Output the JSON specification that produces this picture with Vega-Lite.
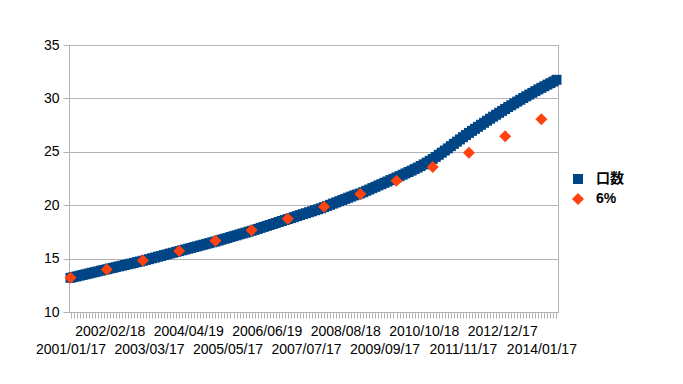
{
  "$schema": "https://vega.github.io/schema/vega-lite/v6.json",
  "autosize": "none",
  "padding": {"left": 69, "top": 45, "right": 125, "bottom": 72},
  "width": 489,
  "height": 267,
  "background": "white",
  "config": {"view": {"stroke": "#b3b3b3", "strokeWidth": 1}, "font": "Liberation Sans"},
  "data": {"values": [
    {"d":"2001/01/17","s":"口数","v":13.20},{"d":"2001/02/17","s":"口数","v":13.27},{"d":"2001/03/17","s":"口数","v":13.33},{"d":"2001/04/17","s":"口数","v":13.40},{"d":"2001/05/17","s":"口数","v":13.47},{"d":"2001/06/17","s":"口数","v":13.53},{"d":"2001/07/17","s":"口数","v":13.60},{"d":"2001/08/17","s":"口数","v":13.67},{"d":"2001/09/17","s":"口数","v":13.73},{"d":"2001/10/17","s":"口数","v":13.80},{"d":"2001/11/17","s":"口数","v":13.87},{"d":"2001/12/17","s":"口数","v":13.93},
    {"d":"2002/01/17","s":"口数","v":14.00},{"d":"2002/02/18","s":"口数","v":14.07},{"d":"2002/03/17","s":"口数","v":14.13},{"d":"2002/04/17","s":"口数","v":14.20},{"d":"2002/05/17","s":"口数","v":14.27},{"d":"2002/06/17","s":"口数","v":14.33},{"d":"2002/07/17","s":"口数","v":14.40},{"d":"2002/08/17","s":"口数","v":14.47},{"d":"2002/09/17","s":"口数","v":14.53},{"d":"2002/10/17","s":"口数","v":14.60},{"d":"2002/11/17","s":"口数","v":14.67},{"d":"2002/12/17","s":"口数","v":14.73},
    {"d":"2003/01/17","s":"口数","v":14.80},{"d":"2003/02/17","s":"口数","v":14.88},{"d":"2003/03/17","s":"口数","v":14.95},{"d":"2003/04/17","s":"口数","v":15.03},{"d":"2003/05/17","s":"口数","v":15.10},{"d":"2003/06/17","s":"口数","v":15.18},{"d":"2003/07/17","s":"口数","v":15.25},{"d":"2003/08/17","s":"口数","v":15.33},{"d":"2003/09/17","s":"口数","v":15.40},{"d":"2003/10/17","s":"口数","v":15.48},{"d":"2003/11/17","s":"口数","v":15.55},{"d":"2003/12/17","s":"口数","v":15.63},
    {"d":"2004/01/17","s":"口数","v":15.70},{"d":"2004/02/17","s":"口数","v":15.78},{"d":"2004/03/17","s":"口数","v":15.85},{"d":"2004/04/19","s":"口数","v":15.93},{"d":"2004/05/17","s":"口数","v":16.00},{"d":"2004/06/17","s":"口数","v":16.08},{"d":"2004/07/17","s":"口数","v":16.15},{"d":"2004/08/17","s":"口数","v":16.23},{"d":"2004/09/17","s":"口数","v":16.30},{"d":"2004/10/17","s":"口数","v":16.38},{"d":"2004/11/17","s":"口数","v":16.45},{"d":"2004/12/17","s":"口数","v":16.53},
    {"d":"2005/01/17","s":"口数","v":16.60},{"d":"2005/02/17","s":"口数","v":16.68},{"d":"2005/03/17","s":"口数","v":16.77},{"d":"2005/04/17","s":"口数","v":16.85},{"d":"2005/05/17","s":"口数","v":16.93},{"d":"2005/06/17","s":"口数","v":17.02},{"d":"2005/07/17","s":"口数","v":17.10},{"d":"2005/08/17","s":"口数","v":17.18},{"d":"2005/09/17","s":"口数","v":17.27},{"d":"2005/10/17","s":"口数","v":17.35},{"d":"2005/11/17","s":"口数","v":17.43},{"d":"2005/12/17","s":"口数","v":17.52},
    {"d":"2006/01/17","s":"口数","v":17.60},{"d":"2006/02/17","s":"口数","v":17.69},{"d":"2006/03/17","s":"口数","v":17.78},{"d":"2006/04/17","s":"口数","v":17.88},{"d":"2006/05/17","s":"口数","v":17.97},{"d":"2006/06/19","s":"口数","v":18.06},{"d":"2006/07/17","s":"口数","v":18.15},{"d":"2006/08/17","s":"口数","v":18.24},{"d":"2006/09/17","s":"口数","v":18.33},{"d":"2006/10/17","s":"口数","v":18.43},{"d":"2006/11/17","s":"口数","v":18.52},{"d":"2006/12/17","s":"口数","v":18.61},
    {"d":"2007/01/17","s":"口数","v":18.70},{"d":"2007/02/17","s":"口数","v":18.79},{"d":"2007/03/17","s":"口数","v":18.88},{"d":"2007/04/17","s":"口数","v":18.98},{"d":"2007/05/17","s":"口数","v":19.07},{"d":"2007/06/17","s":"口数","v":19.16},{"d":"2007/07/17","s":"口数","v":19.25},{"d":"2007/08/17","s":"口数","v":19.34},{"d":"2007/09/17","s":"口数","v":19.43},{"d":"2007/10/17","s":"口数","v":19.53},{"d":"2007/11/17","s":"口数","v":19.62},{"d":"2007/12/17","s":"口数","v":19.71},
    {"d":"2008/01/17","s":"口数","v":19.82},{"d":"2008/02/17","s":"口数","v":19.93},{"d":"2008/03/17","s":"口数","v":20.04},{"d":"2008/04/17","s":"口数","v":20.15},{"d":"2008/05/17","s":"口数","v":20.26},{"d":"2008/06/17","s":"口数","v":20.37},{"d":"2008/07/17","s":"口数","v":20.48},{"d":"2008/08/18","s":"口数","v":20.59},{"d":"2008/09/17","s":"口数","v":20.70},{"d":"2008/10/17","s":"口数","v":20.81},{"d":"2008/11/17","s":"口数","v":20.92},{"d":"2008/12/17","s":"口数","v":21.01},
    {"d":"2009/01/17","s":"口数","v":21.10},{"d":"2009/02/17","s":"口数","v":21.22},{"d":"2009/03/17","s":"口数","v":21.35},{"d":"2009/04/17","s":"口数","v":21.47},{"d":"2009/05/17","s":"口数","v":21.60},{"d":"2009/06/17","s":"口数","v":21.72},{"d":"2009/07/17","s":"口数","v":21.85},{"d":"2009/08/17","s":"口数","v":21.97},{"d":"2009/09/17","s":"口数","v":22.10},{"d":"2009/10/17","s":"口数","v":22.22},{"d":"2009/11/17","s":"口数","v":22.35},{"d":"2009/12/17","s":"口数","v":22.47},
    {"d":"2010/01/17","s":"口数","v":22.60},{"d":"2010/02/17","s":"口数","v":22.72},{"d":"2010/03/17","s":"口数","v":22.85},{"d":"2010/04/17","s":"口数","v":22.98},{"d":"2010/05/17","s":"口数","v":23.11},{"d":"2010/06/17","s":"口数","v":23.24},{"d":"2010/07/17","s":"口数","v":23.38},{"d":"2010/08/17","s":"口数","v":23.52},{"d":"2010/09/17","s":"口数","v":23.67},{"d":"2010/10/18","s":"口数","v":23.82},{"d":"2010/11/17","s":"口数","v":23.98},{"d":"2010/12/17","s":"口数","v":24.15},
    {"d":"2011/01/17","s":"口数","v":24.33},{"d":"2011/02/17","s":"口数","v":24.52},{"d":"2011/03/17","s":"口数","v":24.72},{"d":"2011/04/17","s":"口数","v":24.92},{"d":"2011/05/17","s":"口数","v":25.12},{"d":"2011/06/17","s":"口数","v":25.32},{"d":"2011/07/17","s":"口数","v":25.53},{"d":"2011/08/17","s":"口数","v":25.74},{"d":"2011/09/17","s":"口数","v":25.95},{"d":"2011/10/17","s":"口数","v":26.16},{"d":"2011/11/17","s":"口数","v":26.37},{"d":"2011/12/17","s":"口数","v":26.57},
    {"d":"2012/01/17","s":"口数","v":26.77},{"d":"2012/02/17","s":"口数","v":26.96},{"d":"2012/03/17","s":"口数","v":27.15},{"d":"2012/04/17","s":"口数","v":27.34},{"d":"2012/05/17","s":"口数","v":27.53},{"d":"2012/06/17","s":"口数","v":27.72},{"d":"2012/07/17","s":"口数","v":27.91},{"d":"2012/08/17","s":"口数","v":28.10},{"d":"2012/09/17","s":"口数","v":28.29},{"d":"2012/10/17","s":"口数","v":28.47},{"d":"2012/11/17","s":"口数","v":28.65},{"d":"2012/12/17","s":"口数","v":28.83},
    {"d":"2013/01/17","s":"口数","v":29.01},{"d":"2013/02/17","s":"口数","v":29.19},{"d":"2013/03/17","s":"口数","v":29.36},{"d":"2013/04/17","s":"口数","v":29.53},{"d":"2013/05/17","s":"口数","v":29.70},{"d":"2013/06/17","s":"口数","v":29.87},{"d":"2013/07/17","s":"口数","v":30.04},{"d":"2013/08/17","s":"口数","v":30.20},{"d":"2013/09/17","s":"口数","v":30.36},{"d":"2013/10/17","s":"口数","v":30.52},{"d":"2013/11/17","s":"口数","v":30.68},{"d":"2013/12/17","s":"口数","v":30.84},
    {"d":"2014/01/17","s":"口数","v":30.99},{"d":"2014/02/17","s":"口数","v":31.14},{"d":"2014/03/17","s":"口数","v":31.29},{"d":"2014/04/17","s":"口数","v":31.43},{"d":"2014/05/17","s":"口数","v":31.58},{"d":"2014/06/17","s":"口数","v":31.74},
    {"d":"2001/01/17","s":"6%","v":13.20},{"d":"2002/01/17","s":"6%","v":13.99},{"d":"2003/01/17","s":"6%","v":14.83},{"d":"2004/01/17","s":"6%","v":15.72},{"d":"2005/01/17","s":"6%","v":16.66},{"d":"2006/01/17","s":"6%","v":17.66},{"d":"2007/01/17","s":"6%","v":18.72},{"d":"2008/01/17","s":"6%","v":19.85},{"d":"2009/01/17","s":"6%","v":21.04},{"d":"2010/01/17","s":"6%","v":22.28},{"d":"2011/01/17","s":"6%","v":23.58},{"d":"2012/01/17","s":"6%","v":24.90},{"d":"2013/01/17","s":"6%","v":26.45},{"d":"2014/01/17","s":"6%","v":28.05}
  ]},
  "mark": {"type": "point", "filled": true, "opacity": 1, "strokeWidth": 0},
  "encoding": {
    "x": {
      "field": "d", "type": "ordinal",
      "scale": {"paddingInner": 0, "paddingOuter": 0},
      "axis": {
        "title": null, "labelAngle": 0, "labelOverlap": false, "labelBound": false,
        "labelExpr": "indexof(['2002/02/18','2004/04/19','2006/06/19','2008/08/18','2010/10/18','2012/12/17'], datum.value) >= 0 ? datum.value : (indexof(['2001/01/17','2003/03/17','2005/05/17','2007/07/17','2009/09/17','2011/11/17','2014/01/17'], datum.value) >= 0 ? [' ', datum.value] : '')",
        "labelLineHeight": 18,
        "labelFontSize": 14, "labelFont": "Liberation Sans", "labelColor": "#000000",
        "labelPadding": 6, "tickSize": 6, "tickColor": "#b3b3b3", "domainColor": "#b3b3b3"
      }
    },
    "y": {
      "field": "v", "type": "quantitative",
      "scale": {"domain": [10, 35], "nice": false, "zero": false},
      "axis": {
        "title": null, "values": [10, 15, 20, 25, 30, 35], "grid": true, "gridColor": "#b3b3b3",
        "tickColor": "#b3b3b3", "tickSize": 6, "domainColor": "#b3b3b3",
        "labelFontSize": 14, "labelFont": "Liberation Sans", "labelColor": "#000000", "labelPadding": 4
      }
    },
    "color": {
      "field": "s", "type": "nominal",
      "scale": {"domain": ["口数", "6%"], "range": ["#004586", "#ff420e"]},
      "legend": {
        "title": null, "orient": "none", "legendX": 502, "legendY": 127, "padding": 0,
        "labelFont": "Liberation Sans, Noto Sans CJK JP", "labelFontSize": 14, "labelFontWeight": "bold",
        "labelColor": "#000000", "symbolSize": 75, "labelOffset": 11, "rowPadding": 6
      }
    },
    "shape": {
      "field": "s", "type": "nominal",
      "scale": {"domain": ["口数", "6%"], "range": ["square", "diamond"]}
    },
    "size": {
      "field": "s", "type": "nominal",
      "scale": {"domain": ["口数", "6%"], "range": [100, 144]},
      "legend": null
    }
  }
}
